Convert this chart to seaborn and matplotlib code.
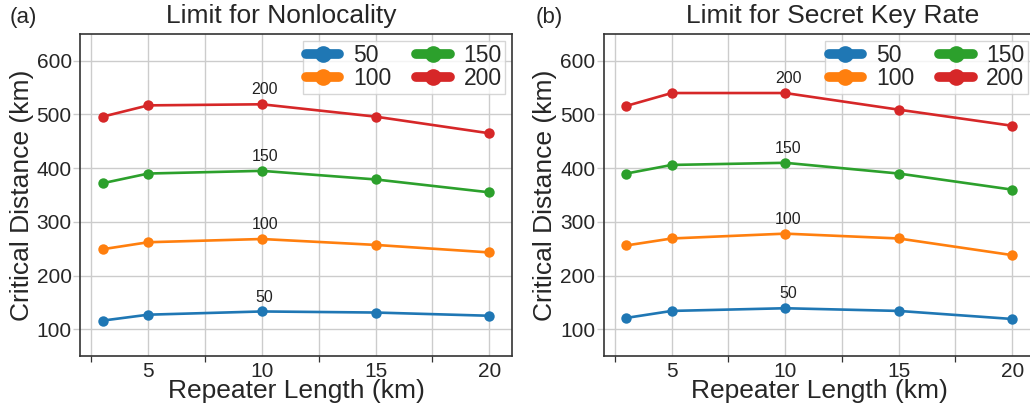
import numpy as np
import pandas as pd
import matplotlib
matplotlib.use("Agg")
import matplotlib.pyplot as plt
from matplotlib.lines import Line2D
from matplotlib.ticker import MultipleLocator
import seaborn as sns

# Repeater lengths (km)
repeater_length = [3, 5, 10, 15, 20]
# Curve labels
series_names = ["50", "100", "150", "200"]

# Critical distance (km), limit for nonlocality
nonlocality = {
    "50": [116, 127, 133, 131, 125],
    "100": [249, 262, 268, 257, 243],
    "150": [372, 390, 395, 379, 355],
    "200": [496, 517, 519, 496, 465],
}
# Critical distance (km), limit for secret key rate
secret_key = {
    "50": [121, 134, 139, 134, 119],
    "100": [256, 269, 278, 269, 238],
    "150": [390, 406, 410, 390, 360],
    "200": [516, 540, 540, 509, 479],
}

titles = ["Limit for Nonlocality", "Limit for Secret Key Rate"]
panel_tags = ["(a)", "(b)"]

sns.set_style("whitegrid", {
    "axes.edgecolor": "#333333",
    "grid.color": "#cccccc",
    "xtick.bottom": True,
    "ytick.left": True,
})
plt.rcParams["font.family"] = ["Liberation Sans", "DejaVu Sans"]

colors = sns.color_palette("tab10", 4)
palette = dict(zip(series_names, colors))


def long_frame(data):
    rows = []
    for name in series_names:
        for x, y in zip(repeater_length, data[name]):
            rows.append({"length": x, "distance": y, "series": name})
    return pd.DataFrame(rows)


fig = plt.figure(figsize=(10.30, 4.11), dpi=100)
ax_a = fig.add_axes([0.0777, 0.1338, 0.4194, 0.7835])
ax_b = fig.add_axes([0.5861, 0.1338, 0.4186, 0.7835])

title_x = [0.465, 0.532]
tag_x = [-0.163, -0.158]

for i, (ax, data) in enumerate(zip([ax_a, ax_b], [nonlocality, secret_key])):
    df = long_frame(data)
    sns.lineplot(data=df, x="length", y="distance", hue="series",
                 hue_order=series_names, palette=palette, marker="o",
                 markersize=7.5, markeredgewidth=0, linewidth=1.9,
                 legend=False, ax=ax)
    # value tags above the 10 km point of each curve
    for name in series_names:
        yv = data[name][repeater_length.index(10)]
        ax.annotate(name, (10, yv), xytext=(2, 5), textcoords="offset points",
                    ha="center", va="bottom", fontsize=11.5, color="#222222")

    ax.set_xlim(2, 21)
    ax.set_ylim(50, 650)
    ax.xaxis.set_major_locator(MultipleLocator(5))
    ax.xaxis.set_minor_locator(MultipleLocator(2.5))
    ax.yaxis.set_major_locator(MultipleLocator(100))
    ax.grid(True, which="both", axis="x", color="#cccccc", linewidth=1.0)
    ax.grid(True, which="major", axis="y", color="#cccccc", linewidth=1.0)
    ax.tick_params(axis="x", which="major", length=0, labelsize=15, pad=4)
    ax.tick_params(axis="x", which="minor", length=4, width=0.9, color="#333333")
    ax.tick_params(axis="y", which="major", length=5, width=1.0, color="#cccccc",
                   labelsize=15, pad=1)
    for s in ax.spines.values():
        s.set_linewidth(1.2)
        s.set_color("#333333")

    ax.set_xlabel("Repeater Length (km)", fontsize=19, labelpad=-1)
    ax.set_ylabel("Critical Distance (km)", fontsize=19, labelpad=2)
    ax.text(title_x[i], 1.02, titles[i], transform=ax.transAxes,
            ha="center", va="bottom", fontsize=19)
    ax.text(tag_x[i], 1.02, panel_tags[i], transform=ax.transAxes,
            ha="left", va="bottom", fontsize=16)

    handles = [Line2D([0], [0], color=palette[n], lw=7, marker="o",
                      markersize=12, markeredgewidth=0) for n in series_names]
    leg = ax.legend(handles, series_names, ncol=2, loc="upper right",
                    fontsize=16.5, frameon=True, fancybox=False,
                    handlelength=1.45, handletextpad=0.6, columnspacing=1.1,
                    labelspacing=0.0, borderpad=0.15, borderaxespad=0.3)
    leg.get_frame().set_edgecolor("#cccccc")
    leg.get_frame().set_linewidth(1.0)

fig.savefig("out.png", dpi=100)
